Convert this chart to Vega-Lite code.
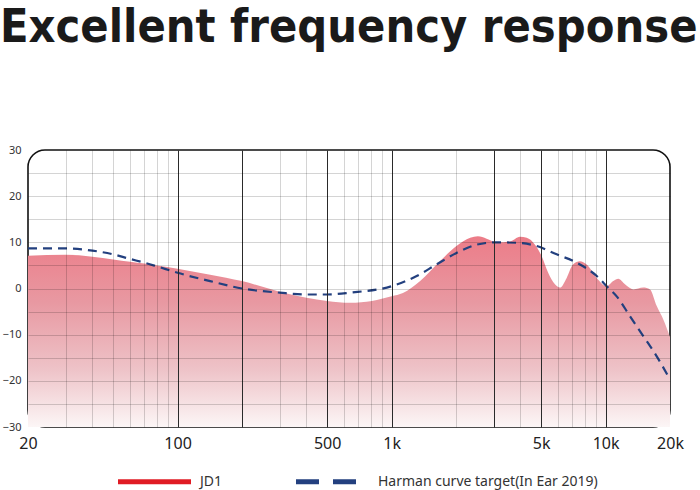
{
  "$schema": "https://vega.github.io/schema/vega-lite/v6.json",
  "width": 642,
  "height": 277,
  "autosize": "none",
  "padding": {"left": 28, "top": 150, "right": 30, "bottom": 63},
  "background": "white",
  "title": {
    "text": "Excellent frequency response",
    "font": "DejaVu Sans Condensed, Roboto, sans-serif",
    "fontWeight": "bold",
    "fontSize": 46.5,
    "color": "#1a1a1a",
    "anchor": "start",
    "frame": "group",
    "dx": -28,
    "offset": 93
  },
  "datasets": {
    "jd1": [
      {"freq": 20, "db": 7.1},
      {"freq": 30, "db": 7.3},
      {"freq": 40, "db": 6.9},
      {"freq": 50, "db": 6.3},
      {"freq": 60, "db": 5.8},
      {"freq": 70, "db": 5.4},
      {"freq": 80, "db": 5.0},
      {"freq": 100, "db": 4.3},
      {"freq": 142, "db": 3.0},
      {"freq": 200, "db": 1.6},
      {"freq": 300, "db": -0.7},
      {"freq": 400, "db": -2.0},
      {"freq": 500, "db": -2.7},
      {"freq": 640, "db": -3.1},
      {"freq": 810, "db": -2.7},
      {"freq": 1000, "db": -1.7},
      {"freq": 1130, "db": -1.0},
      {"freq": 1360, "db": 1.6},
      {"freq": 1680, "db": 5.9},
      {"freq": 2010, "db": 9.2},
      {"freq": 2330, "db": 11.0},
      {"freq": 2530, "db": 11.3},
      {"freq": 2780, "db": 10.8},
      {"freq": 3100, "db": 10.0},
      {"freq": 3580, "db": 10.2},
      {"freq": 3980, "db": 11.2},
      {"freq": 4280, "db": 11.0},
      {"freq": 4680, "db": 9.5},
      {"freq": 5030, "db": 7.0},
      {"freq": 5380, "db": 3.5},
      {"freq": 5800, "db": 0.9},
      {"freq": 6120, "db": 0.2},
      {"freq": 6580, "db": 2.3},
      {"freq": 7040, "db": 5.2},
      {"freq": 7590, "db": 5.9},
      {"freq": 8160, "db": 5.2},
      {"freq": 9090, "db": 2.3},
      {"freq": 10120, "db": 0.5},
      {"freq": 10870, "db": 1.6},
      {"freq": 11470, "db": 2.1},
      {"freq": 12320, "db": 0.9},
      {"freq": 13480, "db": -0.2},
      {"freq": 15000, "db": 0.2},
      {"freq": 16130, "db": -0.2},
      {"freq": 17340, "db": -3.8},
      {"freq": 18610, "db": -6.7},
      {"freq": 20000, "db": -10.5}
    ],
    "harman": [
      {"freq": 20, "db": 8.7, "series": "Harman curve target(In Ear 2019)"},
      {"freq": 30, "db": 8.7, "series": "Harman curve target(In Ear 2019)"},
      {"freq": 40, "db": 8.2, "series": "Harman curve target(In Ear 2019)"},
      {"freq": 50, "db": 7.4, "series": "Harman curve target(In Ear 2019)"},
      {"freq": 60, "db": 6.4, "series": "Harman curve target(In Ear 2019)"},
      {"freq": 70, "db": 5.6, "series": "Harman curve target(In Ear 2019)"},
      {"freq": 80, "db": 4.8, "series": "Harman curve target(In Ear 2019)"},
      {"freq": 100, "db": 3.4, "series": "Harman curve target(In Ear 2019)"},
      {"freq": 142, "db": 1.6, "series": "Harman curve target(In Ear 2019)"},
      {"freq": 200, "db": 0.0, "series": "Harman curve target(In Ear 2019)"},
      {"freq": 300, "db": -0.9, "series": "Harman curve target(In Ear 2019)"},
      {"freq": 400, "db": -1.3, "series": "Harman curve target(In Ear 2019)"},
      {"freq": 500, "db": -1.3, "series": "Harman curve target(In Ear 2019)"},
      {"freq": 640, "db": -0.9, "series": "Harman curve target(In Ear 2019)"},
      {"freq": 1000, "db": 0.5, "series": "Harman curve target(In Ear 2019)"},
      {"freq": 1310, "db": 2.7, "series": "Harman curve target(In Ear 2019)"},
      {"freq": 1620, "db": 5.2, "series": "Harman curve target(In Ear 2019)"},
      {"freq": 2010, "db": 7.7, "series": "Harman curve target(In Ear 2019)"},
      {"freq": 2500, "db": 9.5, "series": "Harman curve target(In Ear 2019)"},
      {"freq": 3100, "db": 10.0, "series": "Harman curve target(In Ear 2019)"},
      {"freq": 3840, "db": 9.9, "series": "Harman curve target(In Ear 2019)"},
      {"freq": 4770, "db": 9.2, "series": "Harman curve target(In Ear 2019)"},
      {"freq": 5910, "db": 7.4, "series": "Harman curve target(In Ear 2019)"},
      {"freq": 7330, "db": 5.6, "series": "Harman curve target(In Ear 2019)"},
      {"freq": 9090, "db": 2.7, "series": "Harman curve target(In Ear 2019)"},
      {"freq": 10120, "db": 0.5, "series": "Harman curve target(In Ear 2019)"},
      {"freq": 11270, "db": -1.7, "series": "Harman curve target(In Ear 2019)"},
      {"freq": 13000, "db": -6.0, "series": "Harman curve target(In Ear 2019)"},
      {"freq": 15000, "db": -10.3, "series": "Harman curve target(In Ear 2019)"},
      {"freq": 17340, "db": -14.7, "series": "Harman curve target(In Ear 2019)"},
      {"freq": 20000, "db": -19.7, "series": "Harman curve target(In Ear 2019)"}
    ]
  },
  "encoding": {
    "x": {
      "field": "freq",
      "type": "quantitative",
      "scale": {"type": "log", "domain": [20, 20000], "nice": false},
      "axis": {
        "title": null,
        "values": [20, 30, 40, 50, 60, 70, 80, 90, 100, 200, 300, 400, 500, 600, 700, 800, 900, 1000, 2000, 3000, 4000, 5000, 6000, 7000, 8000, 9000, 10000, 20000],
        "labelExpr": "indexof([20, 100, 500, 1000, 5000, 10000, 20000], datum.value) >= 0 ? (datum.value >= 1000 ? (datum.value / 1000) + 'k' : datum.value + '') : ''",
        "labelFlush": false,
        "labelOverlap": false,
        "labelFont": "Noto Sans",
        "labelFontSize": 16,
        "labelColor": "#222",
        "labelPadding": 8,
        "ticks": false,
        "domain": false,
        "zindex": 1,
        "grid": true,
        "gridColor": {
          "condition": {"test": "indexof([100, 200, 500, 1000, 3000, 5000, 10000], datum.value) >= 0", "value": "#2a2a2a"},
          "value": "rgba(0,0,0,0.17)"
        },
        "gridOpacity": {
          "condition": {"test": "datum.value == 20 || datum.value == 20000", "value": 0},
          "value": 1
        }
      }
    },
    "y": {
      "field": "db",
      "type": "quantitative",
      "scale": {"domain": [-30, 30], "nice": false},
      "axis": {
        "title": null,
        "values": [-30, -25, -20, -15, -10, -5, 0, 5, 10, 15, 20, 25, 30],
        "labelExpr": "datum.value % 10 == 0 ? datum.label : ''",
        "labelFont": "Noto Sans",
        "labelFontSize": 11,
        "labelColor": "#333",
        "labelPadding": 7,
        "ticks": false,
        "domain": false,
        "zindex": 1,
        "grid": true,
        "gridColor": "rgba(0,0,0,0.17)",
        "gridOpacity": {
          "condition": {"test": "abs(datum.value) == 30", "value": 0},
          "value": 1
        }
      }
    }
  },
  "layer": [
    {
      "data": {"name": "jd1"},
      "mark": {
        "type": "area",
        "interpolate": "monotone",
        "color": {
          "gradient": "linear",
          "x1": 0, "y1": 0, "x2": 0, "y2": 1,
          "stops": [
            {"offset": 0, "color": "#ec7c88"},
            {"offset": 0.35, "color": "#e899a2"},
            {"offset": 0.7, "color": "#eec3c8"},
            {"offset": 1, "color": "#fcf6f6"}
          ]
        }
      },
      "encoding": {
        "y2": {"datum": -30}
      }
    },
    {
      "data": {"name": "harman"},
      "mark": {"type": "line", "interpolate": "monotone", "strokeDash": [9, 6], "strokeWidth": 2.2},
      "encoding": {
        "color": {
          "field": "series",
          "type": "nominal",
          "scale": {"domain": ["JD1", "Harman curve target(In Ear 2019)"], "range": ["#e01b24", "#23407f"]},
          "legend": {
            "title": null,
            "orient": "none",
            "direction": "horizontal",
            "legendX": 87,
            "legendY": 292,
            "symbolType": "stroke",
            "symbolSize": 5330,
            "symbolStrokeWidth": 5,
            "labelFont": "Noto Sans",
            "labelFontSize": 14,
            "labelColor": "#333",
            "labelLimit": 400,
            "labelOffset": 6,
            "columnPadding": 62,
            "encode": {
              "symbols": {
                "update": {
                  "strokeDash": {"signal": "datum.value == 'JD1' ? [1, 0] : [23, 14]"}
                }
              }
            }
          }
        }
      }
    }
  ],
  "config": {
    "view": {"stroke": "#111", "strokeWidth": 1.6, "cornerRadius": 17}
  }
}
